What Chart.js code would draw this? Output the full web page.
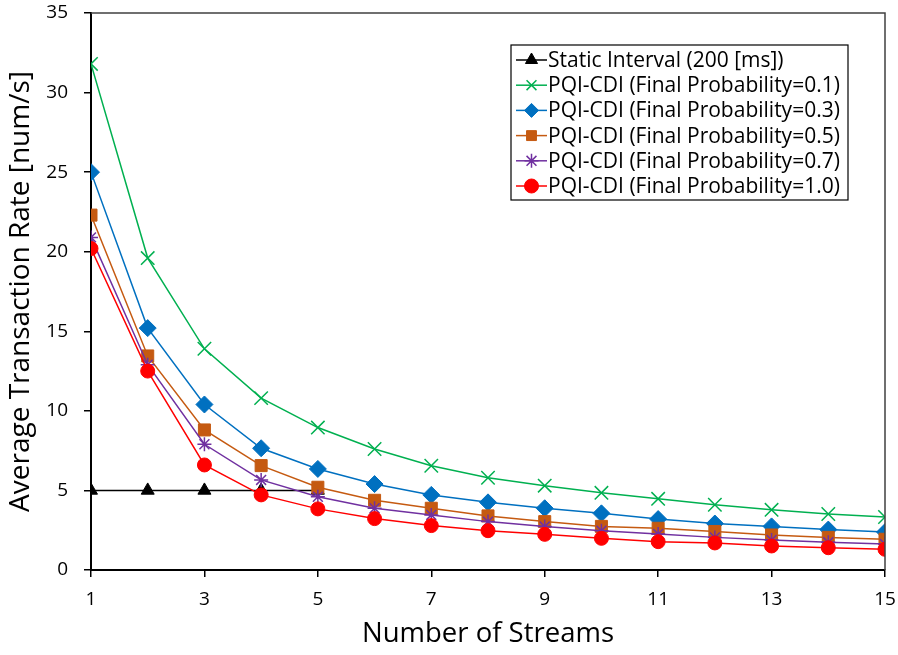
<!DOCTYPE html>
<html>
<head>
<meta charset="utf-8">
<script src="https://cdn.jsdelivr.net/npm/chart.js@4/dist/chart.umd.min.js"></script>
<style>
  html, body { margin: 0; padding: 0; background: #fff; }
  #wrap { width: 898px; height: 655px; }
</style>
</head>
<body>
<div id="wrap"><canvas id="chart-1" width="898" height="655"></canvas></div>
<script>
// chart data
const streams = [1, 2, 3, 4, 5, 6, 7, 8, 9, 10, 11, 12, 13, 14, 15];
const staticInterval = [5, 5, 5, 5, 5];
const prob01 = [31.8, 19.6, 13.9, 10.8, 8.95, 7.6, 6.55, 5.8, 5.3, 4.85, 4.47, 4.1, 3.78, 3.52, 3.33];
const prob03 = [25.0, 15.2, 10.4, 7.65, 6.35, 5.4, 4.72, 4.25, 3.88, 3.56, 3.2, 2.92, 2.74, 2.54, 2.38];
const prob05 = [22.3, 13.45, 8.8, 6.56, 5.2, 4.38, 3.88, 3.4, 3.04, 2.74, 2.62, 2.42, 2.2, 2.05, 1.93];
const prob07 = [20.9, 12.9, 7.9, 5.66, 4.6, 3.88, 3.46, 3.04, 2.73, 2.47, 2.26, 2.05, 1.89, 1.74, 1.63];
const prob10 = [20.2, 12.5, 6.6, 4.72, 3.84, 3.23, 2.79, 2.47, 2.24, 1.99, 1.78, 1.7, 1.51, 1.4, 1.3];
const xTicks = [1, 3, 5, 7, 9, 11, 13, 15];

const FONT = "'Open Sans', Lato, sans-serif";

function toPoints(values) {
  return values.map((v, i) => ({ x: streams[i], y: v }));
}

function makeSet(label, values, color, style, radius, order) {
  return {
    label: label,
    data: toPoints(values),
    borderColor: color,
    backgroundColor: color,
    borderWidth: 1.5,
    pointStyle: style,
    pointRadius: radius,
    pointHoverRadius: radius,
    pointBorderColor: color,
    pointBackgroundColor: color,
    pointBorderWidth: (style === "crossRot" || style === "star") ? 1.5 : 1,
    tension: 0,
    fill: false,
    order: order,
  };
}

const datasets = [
  makeSet("Static Interval (200 [ms])", staticInterval, "#000000", "triangle", 7.5, 5),
  makeSet("PQI-CDI (Final Probability=0.1)", prob01, "#00B050", "crossRot", 9.5, 4),
  makeSet("PQI-CDI (Final Probability=0.3)", prob03, "#0070C0", "rectRot", 8.5, 3),
  makeSet("PQI-CDI (Final Probability=0.5)", prob05, "#C55A11", "rect", 8.5, 2),
  makeSet("PQI-CDI (Final Probability=0.7)", prob07, "#7030A0", "star", 7, 1),
  makeSet("PQI-CDI (Final Probability=1.0)", prob10, "#FF0000", "circle", 7, 0),
];

// box around the plot area (top and right sides)
const frame = {
  id: "frame",
  afterDraw(chart) {
    const a = chart.chartArea;
    const ctx = chart.ctx;
    ctx.save();
    ctx.strokeStyle = "#404040";
    ctx.lineWidth = 1.5;
    ctx.beginPath();
    ctx.moveTo(a.left, a.top);
    ctx.lineTo(a.right, a.top);
    ctx.lineTo(a.right, a.bottom);
    ctx.stroke();
    ctx.restore();
  },
};

// legend drawn inside the plot with a border
const boxLegend = {
  id: "boxLegend",
  afterDraw(chart) {
    const ctx = chart.ctx;
    const left = 511, top = 45, right = 848, bottom = 200;
    ctx.save();
    ctx.fillStyle = "#fff";
    ctx.fillRect(left, top, right - left, bottom - top);
    ctx.strokeStyle = "#000";
    ctx.lineWidth = 1.2;
    ctx.strokeRect(left, top, right - left, bottom - top);
    chart.data.datasets.forEach((ds, i) => {
      const y = top + 15 + i * 25.2;
      ctx.strokeStyle = ds.borderColor;
      ctx.lineWidth = 1.5;
      ctx.beginPath();
      ctx.moveTo(516, y);
      ctx.lineTo(547, y);
      ctx.stroke();
      ctx.fillStyle = ds.pointBackgroundColor;
      ctx.strokeStyle = ds.pointBorderColor;
      ctx.lineWidth = ds.pointBorderWidth;
      Chart.helpers.drawPoint(ctx, { pointStyle: ds.pointStyle, radius: Math.min(ds.pointRadius, 7), rotation: 0, borderWidth: ds.pointBorderWidth }, 531.5, y);
      ctx.fillStyle = "#000";
      ctx.font = "21px " + FONT;
      ctx.textBaseline = "middle";
      ctx.textAlign = "left";
      ctx.fillText(ds.label, 548, y + 1);
    });
    ctx.restore();
  },
};

const ctx = document.getElementById("chart-1").getContext("2d");
const myChart = new Chart(ctx, {
  type: "line",
  data: { datasets: datasets },
  plugins: [frame, boxLegend],
  options: {
    responsive: false,
    animation: false,
    layout: { padding: { top: 13, right: 13, left: 0, bottom: 0 } },
    plugins: {
      legend: { display: false },
      tooltip: { enabled: false },
    },
    scales: {
      x: {
        type: "linear",
        min: 1,
        max: 15,
        afterBuildTicks: (scale) => {
          scale.ticks = xTicks.map((v) => ({ value: v }));
        },
        afterFit: (scale) => {
          scale.height = 85;
          scale.paddingLeft = 0;
          scale.paddingRight = 0;
        },
        grid: { drawOnChartArea: false, color: "#000", tickLength: 7, lineWidth: 1.5 },
        border: { color: "#000", width: 2 },
        ticks: { color: "#000", font: { family: FONT, size: 19 }, padding: 11, maxRotation: 0 },
        title: {
          display: true,
          text: "Number of Streams",
          color: "#000",
          font: { family: FONT, size: 27.5 },
          padding: { top: 0 },
        },
      },
      y: {
        min: 0,
        max: 35,
        afterFit: (scale) => {
          scale.width = 91;
          scale.paddingTop = 0;
          scale.paddingBottom = 0;
        },
        grid: { drawOnChartArea: false, color: "#000", tickLength: 7, lineWidth: 1.5 },
        border: { color: "#000", width: 2 },
        ticks: { stepSize: 5, color: "#000", font: { family: FONT, size: 19 }, padding: 16 },
        title: {
          display: true,
          text: "Average Transaction Rate [num/s]",
          color: "#000",
          font: { family: FONT, size: 28 },
          padding: { bottom: 0 },
        },
      },
    },
  },
});
</script>
</body>
</html>
